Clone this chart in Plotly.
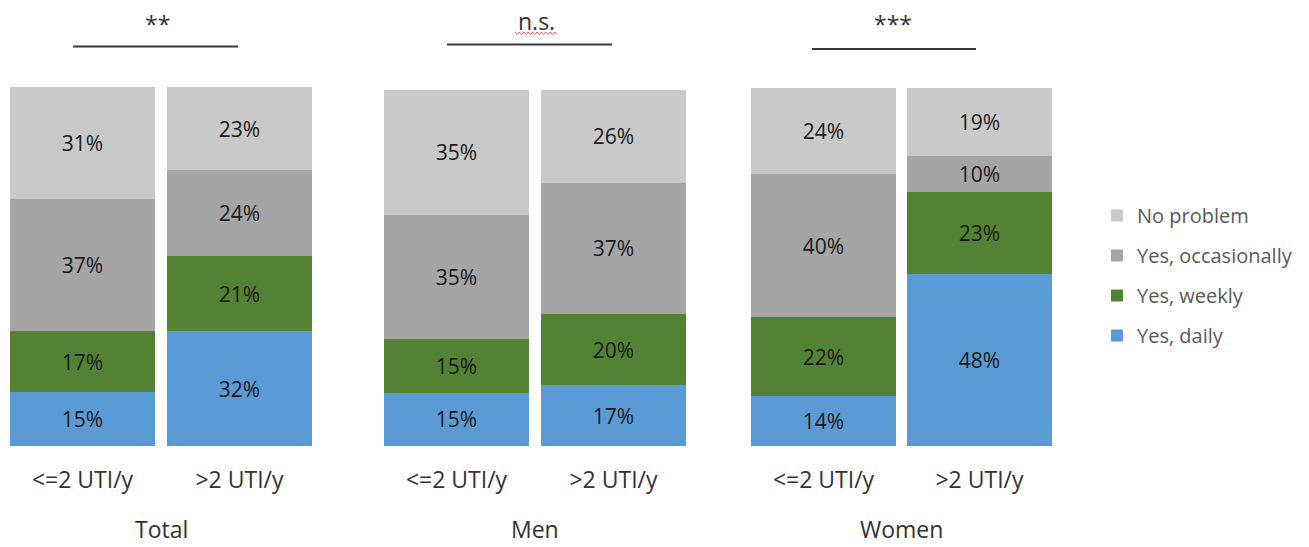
import plotly.graph_objects as go

# ---------------- data ----------------
groups = ["Total", "Men", "Women"]
categories = ["<=2 UTI/y", ">2 UTI/y"]
significance = ["**", "n.s.", "***"]

series_names = ["Yes, daily", "Yes, weekly", "Yes, occasionally", "No problem"]
yes_daily = [[15, 32], [15, 17], [14, 48]]
yes_weekly = [[17, 21], [15, 20], [22, 23]]
yes_occasionally = [[37, 24], [35, 37], [40, 10]]
no_problem = [[31, 23], [35, 26], [24, 19]]

series_values = [yes_daily, yes_weekly, yes_occasionally, no_problem]
series_colors = ["#5B9BD5", "#548235", "#A5A5A5", "#C9C9C9"]
legend_ranks = [4, 3, 2, 1]

# ---------------- layout helpers (pixels) ----------------
W, H = 1309, 547
FONT = "Open Sans"
px_x = lambda p: p / W
px_y = lambda p: 1 - p / H

panel_domains = [(4, 318), (378, 692), (745.5, 1057.5)]
panel_top_range = [124.4, 125.3, 124.7]
plot_bottom = 446

fig = go.Figure()

for gi, g in enumerate(groups):
    xa = "x" if gi == 0 else f"x{gi + 1}"
    ya = "y" if gi == 0 else f"y{gi + 1}"
    for name, vals, color, rank in zip(series_names, series_values, series_colors, legend_ranks):
        fig.add_trace(go.Bar(
            x=categories,
            y=vals[gi],
            name=name,
            marker=dict(color=color, line=dict(width=0)),
            text=[f"{v}%" for v in vals[gi]],
            textposition="inside",
            insidetextanchor="middle",
            textangle=0,
            textfont=dict(family=FONT, size=21, color="#1a1a1a"),
            xaxis=xa,
            yaxis=ya,
            legendgroup=name,
            legendrank=rank,
            showlegend=(gi == 0),
            hoverinfo="skip",
        ))

layout = dict(
    width=W,
    height=H,
    margin=dict(l=0, r=0, t=0, b=0),
    barmode="stack",
    bargap=0.076,
    paper_bgcolor="white",
    plot_bgcolor="white",
    font=dict(family=FONT, color="#404040"),
    uniformtext=dict(minsize=21, mode="show"),
    legend=dict(
        x=px_x(1097), y=px_y(196), xanchor="left", yanchor="top",
        traceorder="grouped",
        tracegroupgap=11,
        font=dict(family=FONT, size=20, color="#595959"),
        bgcolor="rgba(0,0,0,0)",
    ),
)

for gi in range(3):
    sfx = "" if gi == 0 else str(gi + 1)
    d0, d1 = panel_domains[gi]
    layout[f"xaxis{sfx}"] = dict(
        domain=[px_x(d0), px_x(d1)],
        anchor=f"y{sfx}",
        showline=False, showgrid=False, zeroline=False,
        ticks="",
        tickfont=dict(family=FONT, size=23, color="#333333"),
        ticklabelstandoff=18,
        fixedrange=True,
    )
    layout[f"yaxis{sfx}"] = dict(
        domain=[1 - plot_bottom / H, 1],
        anchor=f"x{sfx}",
        range=[0, panel_top_range[gi]],
        visible=False,
        fixedrange=True,
    )

fig.update_layout(**layout)

# group titles
title_x = [161, 535, 901.5]
for gi, g in enumerate(groups):
    fig.add_annotation(
        x=px_x(title_x[gi]), y=px_y(546), xref="paper", yref="paper",
        text=g, showarrow=False, xanchor="center", yanchor="bottom",
        borderpad=0,
        font=dict(family=FONT, size=23, color="#333333"),
    )

# significance markers and lines
sig_text_x = [157, 536, 893]
sig_text_y = [24, 21, 24]
sig_lines = [(73, 238, 46.5), (447, 612, 44.5), (812, 976, 49)]
for gi in range(3):
    fig.add_annotation(
        x=px_x(sig_text_x[gi]), y=px_y(sig_text_y[gi]), xref="paper", yref="paper",
        text=significance[gi], showarrow=False, xanchor="center", yanchor="middle",
        font=dict(family=FONT, size=23, color="#333333"),
    )
    x0, x1, yl = sig_lines[gi]
    fig.add_shape(
        type="line", xref="paper", yref="paper",
        x0=px_x(x0), x1=px_x(x1), y0=px_y(yl), y1=px_y(yl),
        line=dict(color="#3a3a3a", width=2),
    )

# red spell-check squiggle under "n.s."
pts = []
xx = 515.0
up = True
while xx <= 558:
    pts.append((xx, 32 if up else 34.5))
    up = not up
    xx += 2.2
path = "M " + " L ".join(f"{px_x(a):.5f},{px_y(b):.5f}" for a, b in pts)
fig.add_shape(type="path", xref="paper", yref="paper", path=path,
              line=dict(color="#ff4d4d", width=1))

fig.write_html("out.html")
